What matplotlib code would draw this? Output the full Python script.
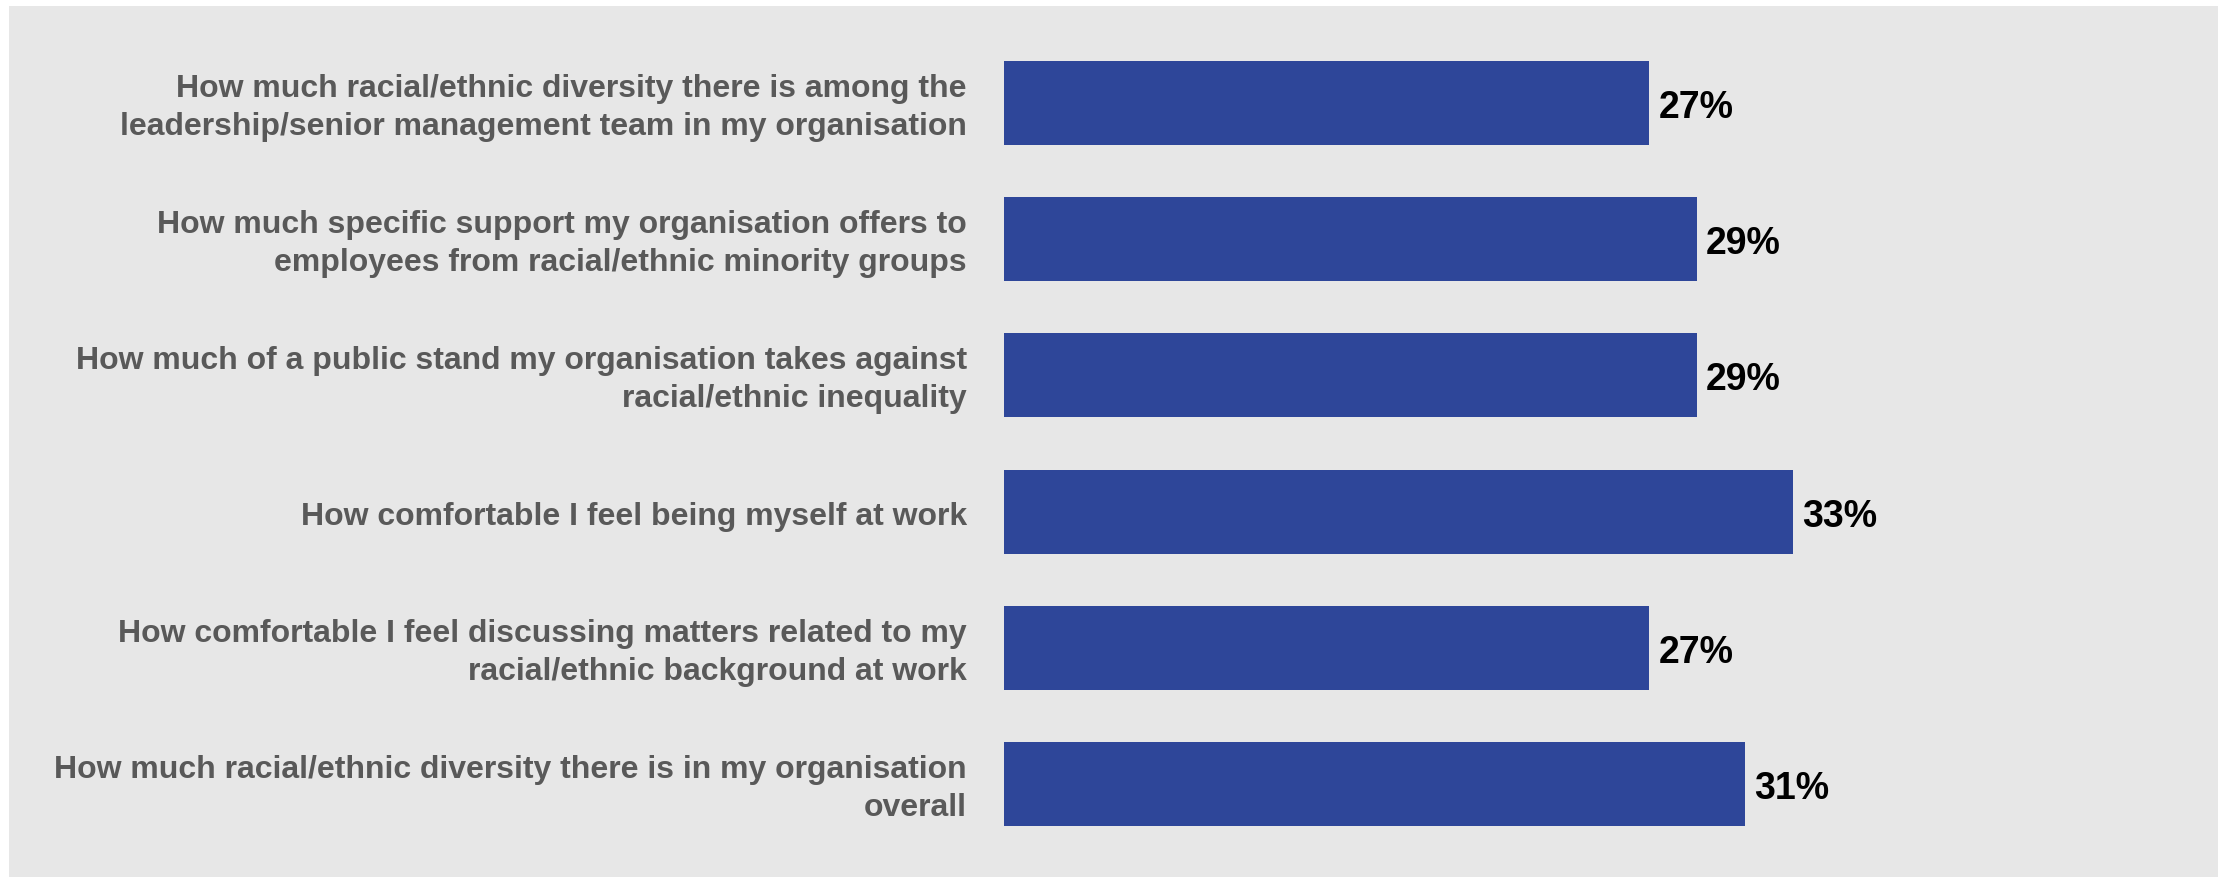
import matplotlib
matplotlib.use("Agg")
import matplotlib.pyplot as plt
from matplotlib.patches import Rectangle
from matplotlib.transforms import blended_transform_factory, offset_copy

categories = [
    "How much racial/ethnic diversity there is among the\nleadership/senior management team in my organisation",
    "How much specific support my organisation offers to\nemployees from racial/ethnic minority groups",
    "How much of a public stand my organisation takes against\nracial/ethnic inequality",
    "How comfortable I feel being myself at work",
    "How comfortable I feel discussing matters related to my\nracial/ethnic background at work",
    "How much racial/ethnic diversity there is in my organisation\noverall",
]
values = [27, 29, 29, 33, 27, 31]

BAR_COLOR = "#2E4699"
LABEL_COLOR = "#595959"
PANEL_COLOR = "#E7E7E7"

W, H, DPI = 2218, 877, 100
fig = plt.figure(figsize=(W / DPI, H / DPI), dpi=DPI, facecolor="white")

# grey panel behind the chart
fig.patches.append(Rectangle((9 / W, 0), 1 - 9 / W, (H - 6) / H,
                             transform=fig.transFigure, facecolor=PANEL_COLOR,
                             edgecolor="none", zorder=-10))

ax_left = 1004 / W
ax_width = 1195 / W
ax_bottom = (H - 852.1) / H
ax_height = 817.2 / H
ax = fig.add_axes([ax_left, ax_bottom, ax_width, ax_height])
ax.set_facecolor("none")
ax.set_zorder(5)

y = list(range(len(categories)))
ax.barh(y, values, height=0.617, color=BAR_COLOR, edgecolor="none")
ax.set_xlim(0, 50)
ax.set_ylim(len(categories) - 0.5, -0.5)

for s in ax.spines.values():
    s.set_visible(False)
ax.set_xticks([])
ax.set_yticks([])

font = "Liberation Sans"
# value labels, nudged down so the digits sit on the bar's centre line
for yi, v in zip(y, values):
    ax.annotate(f"{v}%", xy=(v, yi), xytext=(6.5, -3.6), textcoords="offset points",
                ha="left", va="center", fontsize=27, fontweight="bold",
                color="black", family=font)

trans = blended_transform_factory(fig.transFigure, ax.transData)
trans = offset_copy(trans, fig=fig, x=0, y=-5, units="dots")
for yi, label in zip(y, categories):
    ax.text(967 / W, yi, label, transform=trans, ha="right", va="center",
            fontsize=23, fontweight="bold", color=LABEL_COLOR, family=font,
            linespacing=1.34)

fig.savefig("out.png", dpi=DPI, facecolor=fig.get_facecolor())
